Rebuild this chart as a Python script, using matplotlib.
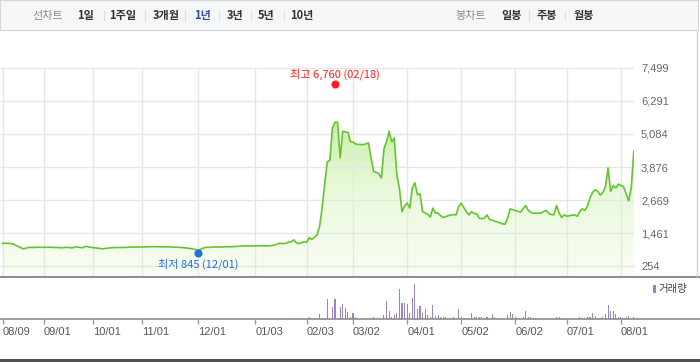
import numpy as np
import matplotlib
matplotlib.use("Agg")
import matplotlib.pyplot as plt
from matplotlib.colors import LinearSegmentedColormap
from matplotlib.transforms import offset_copy

# daily close, one value per trading day (08/09 .. 08/0x)
close = [
    1096, 1096, 1090, 1085, 1070, 1020, 980, 930, 890, 915,
    940, 945, 942, 948, 950, 945, 950, 948, 952, 945,
    940, 945, 935, 930, 940, 945, 935, 925, 960, 955,
    945, 930, 980, 970, 950, 935, 925, 915, 900, 895,
    905, 920, 930, 935, 940, 938, 942, 940, 945, 950,
    960, 955, 958, 955, 960, 962, 965, 968, 970, 972,
    968, 965, 968, 965, 960, 962, 958, 955, 952, 945,
    935, 925, 915, 900, 880, 865, 850, 880, 920, 950,
    945, 950, 955, 960, 955, 962, 965, 968, 970, 968,
    975, 985, 990, 995, 1000, 998, 995, 992, 995, 998,
    1000, 1005, 1000, 1000, 1005, 1020, 1040, 1090, 1090, 1085,
    1095, 1130, 1150, 1217, 1110, 1080, 1110, 1150, 1130, 1300,
    1230, 1310, 1400, 1700, 2380, 3250, 4070, 4119, 5305, 5510,
    5510, 4207, 5180, 5160, 5140, 4800, 4780, 4720, 4700, 4700,
    4694, 4720, 4756, 4200, 3716, 3680, 3640, 3475, 4536, 4800,
    5180, 4792, 4939, 3600, 3100, 2252, 2450, 2560, 2377, 3109,
    3300, 2864, 2900, 2250, 2200, 2150, 2050, 2377, 2194, 2200,
    2100, 2033, 2070, 2100, 2132, 2130, 2132, 2435, 2560, 2400,
    2250, 2132, 2250, 2180, 2170, 2011, 1990, 2011, 2132, 1960,
    1940, 1900, 1870, 1840, 1800, 1791, 2011, 2350, 2320, 2290,
    2260, 2230, 2350, 2472, 2300, 2220, 2190, 2194, 2190, 2194,
    2250, 2290, 2180, 2140, 2132, 2472, 2200, 2033, 2132, 2080,
    2100, 2120, 2130, 2080, 2250, 2350, 2290, 2450, 2750, 2950,
    3047, 2990, 2850, 2950, 3167, 3841, 2984, 3200, 3110, 3255,
    3200, 3167, 2900, 2644, 3109, 4448,
]

# volume (thousand shares), only days with trades shown
vol_days = [82, 107, 113, 114, 116, 119, 120, 121, 122, 123, 124, 125, 126,
            128, 129, 131, 132, 133, 134, 135, 136, 137, 138, 139, 140, 141,
            142, 143, 144, 145, 146, 147, 148, 149, 150, 151, 152, 153, 154,
            155, 156, 157, 158, 159, 160, 161, 162, 163, 164, 165, 166, 167,
            168, 169, 170, 171, 172, 173, 174, 175, 176, 177, 178, 179, 180,
            181, 182, 183, 184, 185, 186, 187, 188, 190, 191, 192, 193, 194,
            196, 197, 198, 199, 200, 201, 202, 203, 204, 205, 206, 207, 212,
            215, 216, 218, 224, 225, 226, 227, 228, 229, 230, 231, 232, 233,
            234, 235, 236, 237, 238, 239, 240, 241, 242, 243, 245]
vol_vals = [35, 50, 50, 50, 50, 125, 50, 50, 50, 250, 50, 50, 1000,
            600, 1000, 600, 750, 550, 350, 100, 300, 135, 35, 35, 35, 35,
            35, 35, 100, 35, 35, 35, 215, 935, 400, 135, 235, 300, 1535,
            800, 835, 765, 300, 1085, 1785, 535, 685, 300, 535, 200, 135, 735,
            165, 200, 100, 100, 100, 35, 35, 135, 85, 535, 135, 85, 35,
            85, 335, 100, 100, 100, 100, 50, 100, 265, 100, 50, 50, 50,
            215, 385, 265, 100, 50, 50, 100, 415, 135, 100, 50, 50, 50,
            135, 100, 50, 100, 50, 50, 100, 100, 335, 165, 50, 50, 135,
            265, 715, 435, 415, 265, 100, 100, 50, 100, 165, 100]

tick_days = [0, 16, 35, 54, 76, 98, 118, 136, 157, 178, 199, 219, 240]
tick_labels = ["08/09", "09/01", "10/01", "11/01", "12/01", "01/03", "02/03",
               "03/02", "04/01", "05/02", "06/02", "07/01", "08/01"]
price_ticks = [254, 1461, 2669, 3876, 5084, 6291, 7499]

hi_day, hi_val = 129, 6760
lo_day, lo_val = 76, 845

periods = ["1일", "1주일", "3개월", "1년", "3년", "5년", "10년"]
period_x = [85.5, 123, 166, 203, 235, 266.5, 301.5]
candles = ["일봉", "주봉", "월봉"]
candle_x = [511.5, 547, 583.5]

KR = ["Noto Sans CJK KR", "DejaVu Sans"]
NUM = "Liberation Sans"
W, H = 700, 362
PXD = 2.576  # pixels per trading day
x0 = -2.7 / PXD

fig = plt.figure(figsize=(W / 100, H / 100), dpi=100)


def fbox(left, top, right, bottom):
    return [left / W, 1 - bottom / H, (right - left) / W, (bottom - top) / H]


# background overlay in pixel coords
bg = fig.add_axes([0, 0, 1, 1], zorder=-5)
bg.set_xlim(0, W)
bg.set_ylim(H, 0)
bg.axis("off")

# toolbar
tb = fig.add_axes(fbox(0, 0, 698, 30), zorder=2)
tb.set_xlim(0, 698)
tb.set_ylim(30, 0)
tb.set_facecolor("#f5f6f8")
tb.set_xticks([])
tb.set_yticks([])
for s in tb.spines.values():
    s.set_color("#d3d6db")
tb.text(48, 15.5, "선차트", family=KR, fontsize=8, color="#8a8a8a", ha="center", va="center")
for i, (lab, x) in enumerate(zip(periods, period_x)):
    col = "#2f4f9f" if lab == "1년" else "#333333"
    tb.text(x, 15.5, lab, family=KR, fontsize=8, fontweight="bold", color=col, ha="center", va="center")
    if i < len(periods) - 1:
        sx = (x + period_x[i + 1]) / 2
        tb.plot([sx, sx], [11, 20], color="#dcdcdc", lw=0.8)
tb.text(471, 15.5, "봉차트", family=KR, fontsize=8, color="#8a8a8a", ha="center", va="center")
for i, (lab, x) in enumerate(zip(candles, candle_x)):
    tb.text(x, 15.5, lab, family=KR, fontsize=8, fontweight="bold", color="#333333", ha="center", va="center")
    if i < len(candles) - 1:
        sx = (x + candle_x[i + 1]) / 2
        tb.plot([sx, sx], [11, 20], color="#dcdcdc", lw=0.8)

# price panel
ax = fig.add_axes(fbox(0, 35, 634, 276))
days = np.arange(len(close))
ymin, ymax = -100, 8692
xmax = (634 - 2.7) / PXD

grad = np.linspace(0, 1, 256).reshape(-1, 1)
cmap = LinearSegmentedColormap.from_list("g", ["#f9fef4", "#eaf9dc", "#c4ee9f"])
im = ax.imshow(grad, extent=[x0, xmax, ymin, 6000], origin="lower",
               cmap=cmap, aspect="auto", zorder=1)
poly = ax.fill_between(days, close, ymin, color="none", lw=0)
im.set_clip_path(poly.get_paths()[0], transform=ax.transData)

ax.hlines(price_ticks, x0, xmax, color="#e6e6e6", lw=1, zorder=2)
ax.vlines(tick_days, ymin, price_ticks[-1], color="#e6e6e6", lw=1, zorder=2)
ax.plot(days, close, color="#63c52f", lw=1.2, zorder=3)

ax.plot(hi_day, hi_val, "o", color="#ff1a1a", ms=4.8, zorder=4,
        transform=offset_copy(ax.transData, fig=fig, y=4, units="dots"))
ax.annotate(f"최고 {hi_val:,} (02/18)", xy=(hi_day, hi_val), xytext=(0, 14),
            textcoords="offset pixels", ha="center", va="center",
            color="#ff1a1a", family=KR, fontsize=8)
ax.plot(lo_day, lo_val, "o", color="#1f6fd6", ms=4.8, zorder=4,
        transform=offset_copy(ax.transData, fig=fig, y=-3, units="dots"))
ax.annotate(f"최저 {lo_val:,} (12/01)", xy=(lo_day, lo_val), xytext=(0, -14),
            textcoords="offset pixels", ha="center", va="center",
            color="#1f6fd6", family=KR, fontsize=8)

ax.set_xlim(x0, xmax)
ax.set_ylim(ymin, ymax)
ax.set_xticks([])
ax.yaxis.tick_right()
ax.set_yticks(price_ticks)
ax.set_yticklabels([f"{v:,}" for v in price_ticks], family=NUM, fontsize=8, color="#666666")
ax.tick_params(axis="y", length=0, pad=5)
for s in ax.spines.values():
    s.set_visible(False)

# volume panel
vx = fig.add_axes(fbox(0, 277, 700, 319.3))
vx.bar(vol_days, vol_vals, width=0.42, color="#9883c9", lw=0)
vx.set_xlim(x0, (700 - 2.7) / PXD)
vx.set_ylim(0, 2115)
vx.set_yticks([])
vx.set_xticks(tick_days)
vx.set_xticklabels(tick_labels, family=NUM, fontsize=8, color="#555555", ha="left")
vx.tick_params(axis="x", length=3.6, width=1, color="#999999", pad=2)
for k in ["top", "left", "right"]:
    vx.spines[k].set_visible(False)
vx.spines["bottom"].set_color("#8c8c8c")
vx.spines["bottom"].set_linewidth(1.2)
vx.set_facecolor("none")

# legend for volume
bg.add_patch(plt.Rectangle((653, 284.5), 2.5, 8.5, color="#9883c9", lw=0))
bg.text(658, 289, "거래량", family=KR, fontsize=7.5, color="#444444", va="center")

# frame lines
bg.plot([0, W], [276.5, 276.5], color="#8a8f99", lw=1.5)
bg.plot([697, 697], [30, 276], color="#d3d6db", lw=1)
bg.add_patch(plt.Rectangle((0, 359), W, 3, color="#505050", lw=0))

fig.savefig("out.png", dpi=100)
